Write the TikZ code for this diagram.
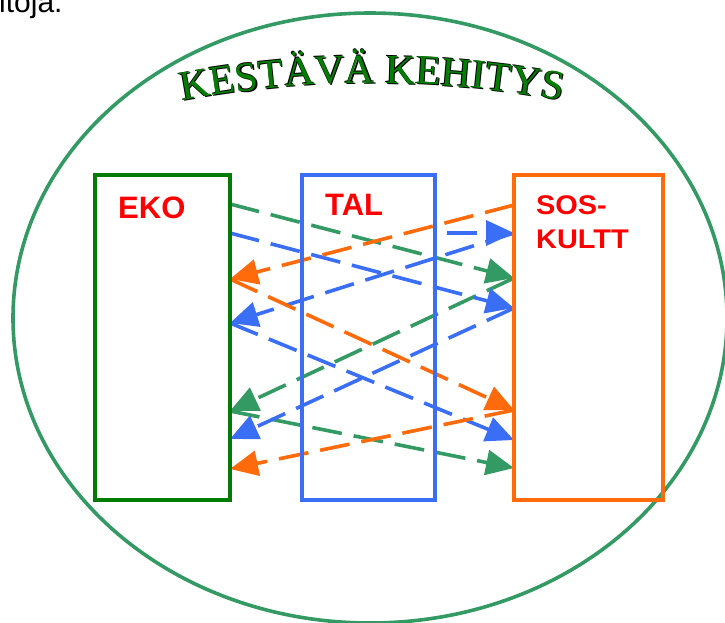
\documentclass[tikz,border=0pt]{standalone}
\usepackage{fontspec}
\usepackage{graphicx}
\setmainfont{Liberation Serif}
\newfontfamily\sansf{Liberation Sans}
\newfontfamily\seriff{Liberation Serif}
\usetikzlibrary{arrows.meta,decorations.text,calc}
\definecolor{egreen}{RGB}{52,154,100}
\definecolor{ekogreen}{RGB}{0,125,0}
\definecolor{tblue}{RGB}{58,110,245}
\definecolor{sorange}{RGB}{255,106,10}
\definecolor{tgreen}{RGB}{0,128,0}
\pgfdeclarelayer{fg}
\pgfsetlayers{main,fg}
\begin{document}
\begin{tikzpicture}[x=1pt,y=1pt,
  box/.style={draw,line width=3.8pt,outer sep=0pt,inner sep=0pt,minimum height=325pt},
  lab/.style={anchor=base west,inner sep=0pt,text=red,font=\sansf\bfseries\fontsize{31}{34}\selectfont},
  slab/.style={anchor=base west,inner sep=0pt,text=red,font=\sansf\bfseries\fontsize{27}{30}\selectfont},
  conn/.style={line width=3.6pt,dash pattern=on 30pt off 12pt,-{Triangle[length=28pt,width=25pt]}},
  titletext/.style={decorate,decoration={text along path,text align=center,
     text={|\seriff\fontsize{41.5}{42}\selectfont\color{#1}|KESTÄVÄ KEHITYS}}}
]
\useasboundingbox (0,0) rectangle (725,-622);
\node[anchor=base west,inner sep=0pt,font=\sansf\fontsize{30}{34}\selectfont] (frag) at (-1,-12) {itoja.};
\draw[egreen,line width=3.6pt] (370,-318) ellipse[x radius=357,y radius=305];

% title: dark outline behind green letters
\foreach \dx/\dy in {1.1/-1.1,-0.8/0.8}
  \path[titletext=black] ([shift={(\dx,\dy)}]178.9,-101.6) arc[start angle=101,end angle=79,radius=1012];
\path[titletext=tgreen] (178.9,-101.6) arc[start angle=101,end angle=79,radius=1012];

\begin{pgfonlayer}{fg}
\node[box,draw=ekogreen,minimum width=135pt] (eko) at (162.5,-337.5) {};
\node[box,draw=tblue,minimum width=133pt] (tal) at (368.5,-337.5) {};
\node[box,draw=sorange,minimum width=149pt] (sos) at (588.5,-337.5) {};
\end{pgfonlayer}

\node[lab] (ekol) at (118,-218) {EKO};
\node[lab] (tall) at (325,-215) {TAL};
\node[slab] (sosl1) at (536,-214) {\scalebox{1.07}[1]{SOS-}};
\node[slab] (sosl2) at (536,-248) {\scalebox{1.07}[1]{KULTT}};

% edge points
\path (eko.north east) ++(0,-29) coordinate (e204);
\path (eko.north east) ++(0,-58) coordinate (e233);
\path (eko.north east) ++(0,-104) coordinate (e279);
\path (eko.north east) ++(0,-148) coordinate (e323);
\path (eko.north east) ++(0,-236) coordinate (e411);
\path (eko.north east) ++(0,-264) coordinate (e439);
\path (eko.north east) ++(0,-294) coordinate (e469);
\path (sos.north west) ++(0,-30) coordinate (s205);
\path (sos.north west) ++(0,-58) coordinate (s233);
\path (sos.north west) ++(0,-103) coordinate (s278);
\path (sos.north west) ++(0,-133) coordinate (s308);
\path (sos.north west) ++(0,-235) coordinate (s410);
\path (sos.north west) ++(0,-265) coordinate (s440);
\path (sos.north west) ++(0,-293) coordinate (s468);
\path (tal.north east) ++(12,-58) coordinate (tb);

\draw[conn,egreen] (e204) -- (s278);
\draw[conn,egreen] (s278) -- (e411);
\draw[conn,egreen] (e411) -- (s468);
\draw[conn,tblue] (e233) -- (s308);
\draw[conn,tblue] (tb) -- (s233);
\draw[conn,tblue] (s233) -- (e323);
\draw[conn,tblue] (s308) -- (e439);
\draw[conn,tblue] (e323) -- (s440);
\draw[conn,sorange] (s205) -- (e279);
\draw[conn,sorange] (e279) -- (s410);
\draw[conn,sorange] (s410) -- (e469);
\end{tikzpicture}
\end{document}
